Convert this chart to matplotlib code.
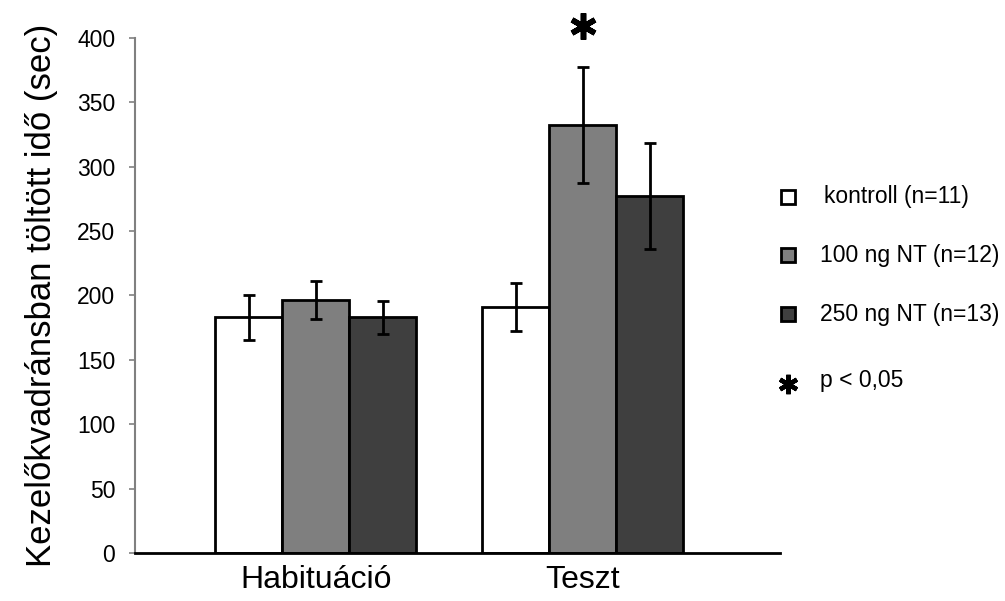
import numpy as np
import matplotlib
matplotlib.use("Agg")
import matplotlib.pyplot as plt

plt.rcParams["font.family"] = ["Liberation Sans", "DejaVu Sans"]

# Data
groups = ["Habituáció", "Teszt"]
series = ["kontroll (n=11)", "100 ng NT (n=12)", "250 ng NT (n=13)"]
kontroll = [183, 191]
kontroll_err = [17.5, 19]
nt100 = [196.5, 332]
nt100_err = [14.5, 45]
nt250 = [183, 277]
nt250_err = [13, 41]
colors = ["#ffffff", "#7f7f7f", "#3f3f3f"]

values = [kontroll, nt100, nt250]
errors = [kontroll_err, nt100_err, nt250_err]

fig = plt.figure(figsize=(10.05, 6.01), dpi=100)
ax = fig.add_axes([0.134, 0.080, 0.642, 0.857])

x = np.arange(len(groups))
w = 0.251
for i, (vals, errs) in enumerate(zip(values, errors)):
    ax.bar(x + (i - 1) * w, vals, w, color=colors[i], edgecolor="black",
           linewidth=2, zorder=2)
    ax.errorbar(x + (i - 1) * w, vals, yerr=errs, fmt="none", ecolor="black",
                elinewidth=2, capsize=4, capthick=2, zorder=3)

# significance star above the Teszt 100 ng bar
ax.plot([x[1]], [409], marker=(6, 2, 0), ms=19, mew=4, color="black",
        clip_on=False, zorder=4)

ax.set_xlim(-0.678, 1.738)
ax.set_ylim(0, 400)
ax.set_yticks(np.arange(0, 401, 50))
ax.tick_params(axis="y", labelsize=16.5, length=4, color="#808080", width=1.2, pad=10)
ax.tick_params(axis="x", length=0, labelsize=23, pad=9)
ax.set_xticks(x)
ax.set_xticklabels(groups)

ax.spines["top"].set_visible(False)
ax.spines["right"].set_visible(False)
ax.spines["left"].set_color("#808080")
ax.spines["left"].set_linewidth(1.5)
ax.spines["bottom"].set_linewidth(2)
ax.set_ylabel("Kezelőkvadránsban töltött idő (sec)", fontsize=25, labelpad=14)

# legend drawn by hand in figure coords
leg_y = [197, 255, 314]
for i, lab in enumerate(series):
    yf = 1 - leg_y[i] / 601
    fig.patches.append(plt.Rectangle((781 / 1005, yf - 7 / 601), 14 / 1005, 14 / 601,
                                     transform=fig.transFigure, facecolor=colors[i],
                                     edgecolor="black", linewidth=2))
    fig.text(820 / 1005 if i else 824 / 1005, yf, lab, fontsize=16.5, va="center")
fig.lines.append(plt.Line2D([788 / 1005], [1 - 384 / 601], marker=(6, 2, 0), ms=14,
                            mew=3.2, color="black", transform=fig.transFigure))
fig.text(820 / 1005, 1 - 381 / 601, "p < 0,05", fontsize=16.5, va="center")

fig.savefig("out.png", dpi=100, facecolor="white")
